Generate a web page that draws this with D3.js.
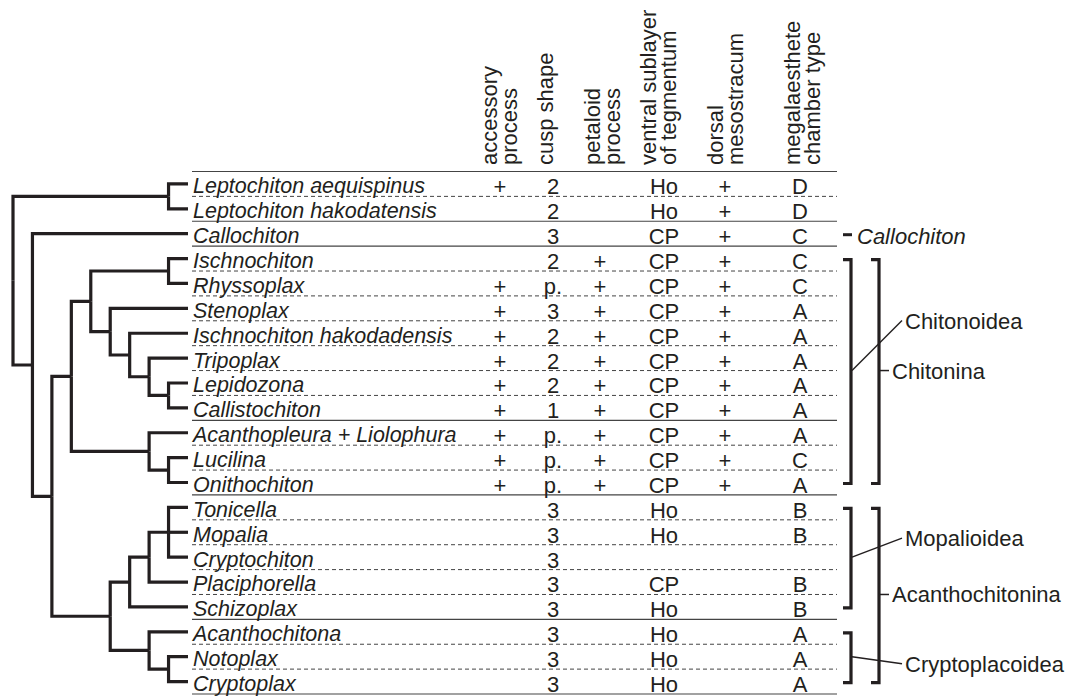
<!DOCTYPE html>
<html>
<head>
<meta charset="utf-8">
<script src="https://cdn.jsdelivr.net/npm/d3@7"></script>
<style>
  body { margin: 0; background: #fff; }
  text { font-family: "Liberation Sans", Arial, sans-serif; fill: #231f20; }
</style>
</head>
<body>
<div id="chart"></div>
<script>
// taxa, top to bottom
var species = ["Leptochiton aequispinus", "Leptochiton hakodatensis", "Callochiton",
    "Ischnochiton", "Rhyssoplax", "Stenoplax", "Ischnochiton hakodadensis", "Tripoplax",
    "Lepidozona", "Callistochiton", "Acanthopleura + Liolophura", "Lucilina", "Onithochiton",
    "Tonicella", "Mopalia", "Cryptochiton", "Placiphorella", "Schizoplax",
    "Acanthochitona", "Notoplax", "Cryptoplax"];

// character columns
var accessory = ["+", "", "", "", "+", "+", "+", "+", "+", "+", "+", "+", "+", "", "", "", "", "", "", "", ""];
var cusp = ["2", "2", "3", "2", "p.", "3", "2", "2", "2", "1", "p.", "p.", "p.", "3", "3", "3", "3", "3", "3", "3", "3"];
var petaloid = ["", "", "", "+", "+", "+", "+", "+", "+", "+", "+", "+", "+", "", "", "", "", "", "", "", ""];
var ventral = ["Ho", "Ho", "CP", "CP", "CP", "CP", "CP", "CP", "CP", "CP", "CP", "CP", "CP", "Ho", "Ho", "", "CP", "Ho", "Ho", "Ho", "Ho"];
var dorsal = ["+", "+", "+", "+", "+", "+", "+", "+", "+", "+", "+", "+", "+", "", "", "", "", "", "", "", ""];
var chamber = ["D", "D", "C", "C", "C", "A", "A", "A", "A", "A", "A", "C", "A", "B", "B", "", "B", "B", "A", "A", "A"];

var headers = [["accessory", "process"], ["cusp shape"], ["petaloid", "process"],
    ["ventral sublayer", "of tegmentum"], ["dorsal", "mesostracum"], ["megalaesthete", "chamber type"]];

// cladogram topology (nested lists)
var tree = [
    ["Leptochiton aequispinus", "Leptochiton hakodatensis"],
    ["Callochiton",
        [
            [
                [["Ischnochiton", "Rhyssoplax"],
                    ["Stenoplax", ["Ischnochiton hakodadensis", ["Tripoplax", ["Lepidozona", "Callistochiton"]]]]],
                ["Acanthopleura + Liolophura", ["Lucilina", "Onithochiton"]]
            ],
            [
                [[["Tonicella", "Mopalia", "Cryptochiton"], "Placiphorella"], "Schizoplax"],
                ["Acanthochitona", ["Notoplax", "Cryptoplax"]]
            ]
        ]
    ]
];

// rows whose lower rule is solid
var solidAfter = ["Leptochiton hakodatensis", "Callochiton", "Callistochiton", "Onithochiton", "Schizoplax", "Cryptoplax"];

// clades marked on the right
var singles = [{name: "Callochiton", row: "Callochiton"}];
var inner = [
    {name: "Chitonoidea", from: "Ischnochiton", to: "Onithochiton"},
    {name: "Mopalioidea", from: "Tonicella", to: "Schizoplax"},
    {name: "Cryptoplacoidea", from: "Acanthochitona", to: "Cryptoplax"}
];
var outer = [
    {name: "Chitonina", from: "Ischnochiton", to: "Onithochiton"},
    {name: "Acanthochitonina", from: "Tonicella", to: "Cryptoplax"}
];

// layout
var width = 1070, height = 696;
var colX = [500, 553, 600, 664, 725, 800];
var headX = [497, 553, 600, 656, 723, 800];
var innerLeader = [-50, -19, 7];   // leader end offset from bracket middle
var columns = [accessory, cusp, petaloid, ventral, dorsal, chamber];
var ink = "#231f20";

var svg = d3.select("#chart")
    .append("svg")
    .attr("width", width)
    .attr("height", height);

var y = d3.scaleBand()
    .domain(species)
    .range([171.5, 694]);
var bw = y.bandwidth();

var root = d3.hierarchy(tree, function(d) { return Array.isArray(d) ? d : null; });
var x = d3.scaleLinear()
    .domain([0, root.height])
    .range([188, 13]);

root.eachAfter(function(n) {
    n.px = x(n.height);
    if (n.children) {
        n.py = (n.children[0].py + n.children[n.children.length - 1].py) / 2;
    } else {
        n.py = y(n.data) + bw / 2;
    }
});

// table rules
svg.append("line")
    .attr("x1", 192).attr("x2", 837)
    .attr("y1", y.range()[0]).attr("y2", y.range()[0])
    .attr("stroke", "#444").attr("stroke-width", 1.2);
svg.append("g")
    .selectAll("line")
    .data(species)
    .enter()
    .append("line")
    .attr("x1", 192).attr("x2", 837)
    .attr("y1", function(d) { return y(d) + bw; })
    .attr("y2", function(d) { return y(d) + bw; })
    .attr("stroke", "#444")
    .attr("stroke-width", function(d) { return solidAfter.indexOf(d) >= 0 ? 1.2 : 1; })
    .attr("stroke-dasharray", function(d) { return solidAfter.indexOf(d) >= 0 ? null : "4,3"; });

// cladogram
svg.append("g")
    .selectAll("path")
    .data(root.links())
    .enter()
    .append("path")
    .attr("d", function(l) {
        return "M" + l.source.px + "," + l.source.py + "V" + l.target.py + "H" + l.target.px;
    })
    .attr("fill", "none")
    .attr("stroke", ink)
    .attr("stroke-width", 3.2);

// species names
svg.append("g")
    .selectAll("text")
    .data(species)
    .enter()
    .append("text")
    .attr("x", 193)
    .attr("y", function(d) { return y(d) + bw - 3; })
    .style("font-size", "21.5px")
    .style("font-style", "italic")
    .text(function(d) { return d; });

// character states
columns.forEach(function(col, j) {
    svg.append("g")
        .selectAll("text")
        .data(col)
        .enter()
        .append("text")
        .attr("x", colX[j])
        .attr("y", function(d, i) { return y(species[i]) + bw - 2; })
        .attr("text-anchor", "middle")
        .style("font-size", "22px")
        .text(function(d) { return d; });
});

// column headers
headers.forEach(function(lines, j) {
    lines.forEach(function(t, k) {
        svg.append("text")
            .attr("transform", "translate(" + (headX[j] + k * 20) + ",165) rotate(-90)")
            .style("font-size", "22px")
            .text(t);
    });
});

// right brackets
function mid(c) { return (y(c.from) + y(c.to) + bw) / 2; }
function bracket(c, bx) {
    var t = y(c.from) + bw / 2 + 1, b = y(c.to) + bw / 2 + 1;
    return "M" + (bx - 8) + "," + t + "H" + bx + "V" + b + "H" + (bx - 8);
}

singles.forEach(function(c) {
    var cy = y(c.row) + bw / 2 + 1;
    svg.append("line")
        .attr("x1", 843).attr("x2", 852)
        .attr("y1", cy).attr("y2", cy)
        .attr("stroke", ink).attr("stroke-width", 3);
    svg.append("text")
        .attr("x", 857).attr("y", cy + 9)
        .style("font-size", "22px")
        .style("font-style", "italic")
        .text(c.name);
});

inner.forEach(function(c, i) {
    var m = mid(c);
    svg.append("path")
        .attr("d", bracket(c, 851))
        .attr("fill", "none").attr("stroke", ink).attr("stroke-width", 3.2);
    svg.append("line")
        .attr("x1", 852).attr("y1", m)
        .attr("x2", 902).attr("y2", m + innerLeader[i])
        .attr("stroke", ink).attr("stroke-width", 1.5);
    svg.append("text")
        .attr("x", 905).attr("y", m + innerLeader[i] + 8)
        .style("font-size", "22px")
        .text(c.name);
});

outer.forEach(function(c) {
    var m = mid(c);
    svg.append("path")
        .attr("d", bracket(c, 879))
        .attr("fill", "none").attr("stroke", ink).attr("stroke-width", 3.2);
    svg.append("line")
        .attr("x1", 879).attr("y1", m)
        .attr("x2", 889).attr("y2", m)
        .attr("stroke", ink).attr("stroke-width", 1.5);
    svg.append("text")
        .attr("x", 892).attr("y", m + 8)
        .style("font-size", "22px")
        .text(c.name);
});
</script>
</body>
</html>
